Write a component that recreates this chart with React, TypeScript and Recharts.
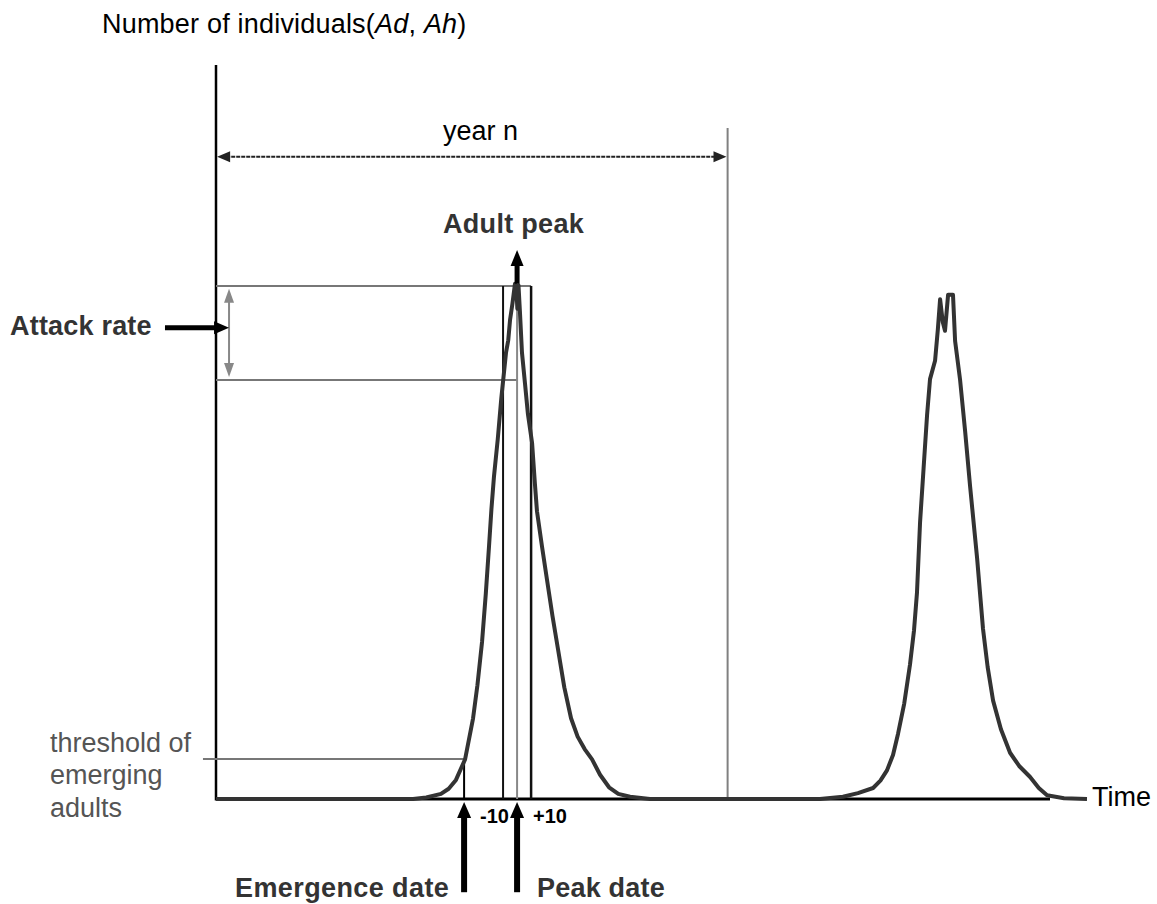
import React from "react"
import { LineChart, Line, XAxis, YAxis, ReferenceLine } from "recharts"

// time in days since the start of year n, number of adults (arbitrary units, 0-100)
const timeDays = [
  0, 140.6, 150, 160.5, 166, 171.2, 177.7, 183.4, 186.5, 189.8, 192.5, 194.8, 196.5, 198.3, 201, 203.5,
  206.9, 208.5, 209.8, 211.5, 213.3, 214.3, 215.0, 215.8, 216.8, 218.3, 220.5, 222.5, 225.5, 227.5, 229.0,
  232.5, 236.2, 240, 244.0, 248.5, 253.3, 258, 263, 268.3, 274, 280.4, 287, 295.4, 309.6,
  430.9, 447.3, 458, 468.8, 474, 478.7, 483, 486.6, 491, 495.1, 498, 500.1, 502.3, 504.8, 507.3, 509.4,
  513.0, 515, 516.6, 518.5, 520.1, 522.3, 525.8, 527.3, 530.8, 534.5, 538.0, 543.0, 547.2, 550.5, 554.4,
  560, 566.5, 573, 580.8, 587, 592.9, 605, 621.4,
]
const individuals = [
  0, 0, 0.2, 0.7, 1.4, 2.6, 5.4, 11.0, 15.5, 21.4, 28, 34.5, 39.5, 43.9, 49, 54.5,
  60.8, 62.5, 65.3, 67.5, 70.2, 69.5, 66.8, 70.0, 66.5, 60.8, 56.5, 52.5, 48.5, 43, 39.2,
  34.5, 29.8, 25, 20.4, 15.2, 11.0, 8.5, 6.8, 5.4, 3.3, 1.6, 0.7, 0.3, 0,
  0, 0.3, 0.8, 1.5, 2.5, 3.9, 6, 8.9, 13, 18.3, 23, 28.1, 37.7, 45, 52.3, 57.2,
  59.7, 64, 68.1, 65, 63.8, 68.7, 68.7, 62.4, 57.2, 50, 42.6, 32.8, 23.2, 18, 13.4,
  9.5, 6.3, 4.5, 3.0, 1.5, 0.5, 0.1, 0,
]

// annotation positions, in the same units
const YEAR_END = 365
const PEAK_DAY = 214.8
const PEAK_WINDOW = 10
const EMERGENCE_DAY = 177
const THRESHOLD = 5.45
const ATTACK_TOP = 69.9
const ATTACK_BOTTOM = 57.1
const ADULT_PEAK_TIP = 74.8
const YEAR_ARROW_Y = 87.5
const YEAR_LINE_TOP = 91.4
const AXIS_END = 595

const chartData = timeDays.map((t, i) => ({ t, n: individuals[i] }))

type ArrowOpts = {
  color: string
  width: number
  head?: number
  headWidth?: number
  start?: boolean
  end?: boolean
  dash?: string
}

const arrowShape = (o: ArrowOpts) => (p: any) => {
  const { x1, y1, x2, y2 } = p
  const dx = x2 - x1
  const dy = y2 - y1
  const len = Math.hypot(dx, dy) || 1
  const ux = dx / len
  const uy = dy / len
  const nx = -uy
  const ny = ux
  const h = o.head ?? 0
  const hw = (o.headWidth ?? 0) / 2
  const head = (tx: number, ty: number, dir: number) => {
    const bx = tx - dir * ux * h
    const by = ty - dir * uy * h
    return `${tx},${ty} ${bx + nx * hw},${by + ny * hw} ${bx - nx * hw},${by - ny * hw}`
  }
  const sx = o.start ? x1 + ux * h * 0.7 : x1
  const sy = o.start ? y1 + uy * h * 0.7 : y1
  const ex = o.end ? x2 - ux * h * 0.7 : x2
  const ey = o.end ? y2 - uy * h * 0.7 : y2
  return (
    <g>
      <line x1={sx} y1={sy} x2={ex} y2={ey} stroke={o.color} strokeWidth={o.width} strokeDasharray={o.dash} />
      {o.end && <polygon points={head(x2, y2, 1)} fill={o.color} />}
      {o.start && <polygon points={head(x1, y1, -1)} fill={o.color} />}
    </g>
  )
}

const seg = (xa: number, ya: number, xb: number, yb: number) => [
  { x: xa, y: ya },
  { x: xb, y: yb },
]

const FONT = "'Liberation Sans', Arial, Helvetica, sans-serif"

export default function App() {
  return (
    <div style={{ position: "absolute", left: 0, top: 0, width: 1157, height: 904, background: "#fff" }}>
      <LineChart
        width={1157}
        height={904}
        data={chartData}
        margin={{ top: 65, right: 70, left: 216, bottom: 105 }}
      >
        <XAxis type="number" dataKey="t" domain={[0, 621.4]} hide />
        <YAxis type="number" domain={[0, 100]} hide />

        {/* axes */}
        <ReferenceLine ifOverflow="visible" segment={seg(0, 100, 0, -0.2)} stroke="#000" strokeWidth={2.5} />
        <ReferenceLine ifOverflow="visible" segment={seg(0, 0, AXIS_END, 0)} stroke="#000" strokeWidth={3} />

        {/* year n */}
        <ReferenceLine
          ifOverflow="visible"
          segment={seg(0.8, YEAR_ARROW_Y, YEAR_END - 0.8, YEAR_ARROW_Y)}
          shape={arrowShape({ color: "#222", width: 2, head: 13, headWidth: 11, start: true, end: true, dash: "4 1" })}
        />
        <ReferenceLine ifOverflow="visible" segment={seg(YEAR_END, YEAR_LINE_TOP, YEAR_END, 0)} stroke="#808080" strokeWidth={2} />

        {/* attack rate */}
        <ReferenceLine ifOverflow="visible" segment={seg(0, ATTACK_TOP, PEAK_DAY + PEAK_WINDOW, ATTACK_TOP)} stroke="#777" strokeWidth={2} />
        <ReferenceLine ifOverflow="visible" segment={seg(0, ATTACK_BOTTOM, PEAK_DAY, ATTACK_BOTTOM)} stroke="#777" strokeWidth={2} />
        <ReferenceLine
          ifOverflow="visible"
          segment={seg(9.3, ATTACK_TOP - 0.4, 9.3, ATTACK_BOTTOM + 0.4)}
          shape={arrowShape({ color: "#888", width: 2, head: 14, headWidth: 10, start: true, end: true })}
        />
        <ReferenceLine
          ifOverflow="visible"
          segment={seg(-36.4, 64.2, 9.3, 64.2)}
          shape={arrowShape({ color: "#000", width: 5, head: 15, headWidth: 13, end: true })}
        />

        {/* peak window */}
        <ReferenceLine ifOverflow="visible" segment={seg(PEAK_DAY, ATTACK_TOP, PEAK_DAY, 0)} stroke="#888" strokeWidth={2} />
        <ReferenceLine ifOverflow="visible" segment={seg(PEAK_DAY - PEAK_WINDOW, ATTACK_TOP, PEAK_DAY - PEAK_WINDOW, 0)} stroke="#111" strokeWidth={2} />
        <ReferenceLine ifOverflow="visible" segment={seg(PEAK_DAY + PEAK_WINDOW, ATTACK_TOP, PEAK_DAY + PEAK_WINDOW, 0)} stroke="#111" strokeWidth={2.5} />

        {/* threshold / emergence */}
        <ReferenceLine ifOverflow="visible" segment={seg(-9.3, THRESHOLD, EMERGENCE_DAY, THRESHOLD)} stroke="#777" strokeWidth={2} />
        <ReferenceLine ifOverflow="visible" segment={seg(EMERGENCE_DAY, THRESHOLD, EMERGENCE_DAY, 0)} stroke="#000" strokeWidth={2} />

        <Line
          type="linear"
          dataKey="n"
          stroke="#333"
          strokeWidth={4}
          strokeLinejoin="round"
          dot={false}
          activeDot={false}
          isAnimationActive={false}
        />

        {/* arrows */}
        <ReferenceLine
          ifOverflow="visible"
          segment={seg(PEAK_DAY, ATTACK_TOP + 0.3, PEAK_DAY, ADULT_PEAK_TIP)}
          shape={arrowShape({ color: "#000", width: 5, head: 16, headWidth: 13, end: true })}
        />
        <ReferenceLine
          ifOverflow="visible"
          segment={seg(EMERGENCE_DAY, -12.7, EMERGENCE_DAY, -0.4)}
          shape={arrowShape({ color: "#000", width: 6, head: 16, headWidth: 14, end: true })}
        />
        <ReferenceLine
          ifOverflow="visible"
          segment={seg(PEAK_DAY, -12.7, PEAK_DAY, -0.4)}
          shape={arrowShape({ color: "#000", width: 6, head: 16, headWidth: 14, end: true })}
        />
      </LineChart>

      <svg
        width={1157}
        height={904}
        style={{ position: "absolute", left: 0, top: 0, pointerEvents: "none" }}
        fontFamily={FONT}
      >
        <text x={102} y={33} fontSize={27} letterSpacing={0.2} fill="#000">
          Number of individuals(<tspan fontStyle="italic">Ad</tspan>, <tspan fontStyle="italic">Ah</tspan>)
        </text>
        <text x={443} y={140} fontSize={27} fill="#000">year n</text>
        <text x={443} y={233} fontSize={27} fontWeight="bold" letterSpacing={0.3} fill="#333">Adult peak</text>
        <text x={10} y={335} fontSize={27} fontWeight="bold" letterSpacing={0.2} fill="#333">Attack rate</text>
        <text x={50} y={752} fontSize={27} fill="#555">threshold of</text>
        <text x={50} y={784} fontSize={27} fill="#555">emerging</text>
        <text x={50} y={817} fontSize={27} fill="#555">adults</text>
        <text x={480} y={823} fontSize={20} fontWeight="bold" fill="#000">-10</text>
        <text x={533} y={823} fontSize={20} fontWeight="bold" fill="#000">+10</text>
        <text x={235} y={897} fontSize={27} fontWeight="bold" letterSpacing={0.4} fill="#333">Emergence date</text>
        <text x={537} y={897} fontSize={27} fontWeight="bold" letterSpacing={0.2} fill="#333">Peak date</text>
        <text x={1092} y={806} fontSize={27} fill="#000">Time</text>
      </svg>
    </div>
  )
}
